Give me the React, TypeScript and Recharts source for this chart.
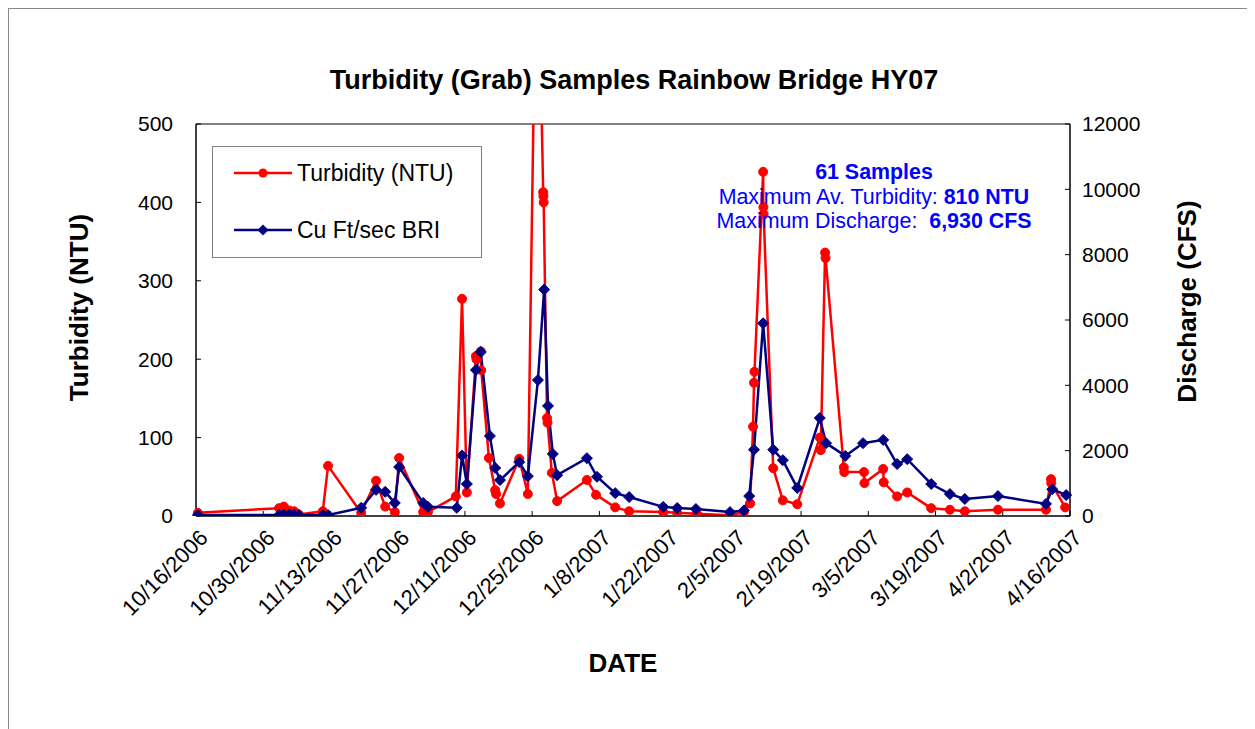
import React from 'react';
import { LineChart, Line, XAxis, YAxis, ReferenceLine } from 'recharts';

// x values are days since 10/16/2006
const turbDays = [
  0.4, 17.3, 18.3, 19.4, 20.4, 21.4, 26.4, 27.5, 34.4, 37.5, 39.4, 41.4, 42.3, 47.3, 48.3,
  54.1, 55.4, 56.4, 58.3, 58.4, 59.3, 59.4, 61.0, 62.3, 62.5, 63.3, 67.3, 69.1, 71.0, 72.3,
  72.35, 72.4, 73.1, 73.2, 74.1, 75.2, 81.4, 83.3, 87.3, 90.2, 97.3, 100.2, 104.3, 111.2,
  114.1, 115.4, 116.0, 116.2, 116.3, 118.1, 118.15, 118.2, 120.2, 122.2, 125.2, 129.9, 130.1,
  131.0, 131.1, 134.9, 135.0, 139.1, 139.2, 143.1, 143.2, 146.0, 148.1, 153.1, 157.0, 160.1,
  167.0, 177.0, 178.05, 178.1, 181.0,
];
const turbNtu = [
  4, 10, 12, 7, 6, 2, 6, 64, 4, 45, 12, 5, 74, 5, 5,
  25, 277, 30, 204, 200, 210, 186, 74, 33, 28, 16, 73, 28, 810, 413,
  408, 400, 125, 119, 55, 19, 46, 27, 11, 6, 5, 4, 3, 1,
  5, 16, 114, 170, 184, 439, 394, 385, 61, 20, 15, 100, 84,
  336, 329, 62, 56, 56, 42, 60, 43, 25, 30, 10, 8, 6,
  8, 8, 47, 42, 11,
];

const flowDays = [
  0.4, 17.3, 18.3, 19.4, 20.4, 21.4, 26.4, 27.5, 34.4, 37.5, 39.4, 41.4, 42.3, 47.3, 48.3,
  54.3, 55.4, 56.4, 58.3, 59.3, 61.2, 62.3, 63.3, 67.3, 69.1, 71.2, 72.5, 73.3, 74.3, 75.2,
  81.4, 83.5, 87.3, 90.2, 97.3, 100.2, 104.1, 111.2, 114.1, 115.2, 116.2, 118.1, 120.2, 122.2,
  125.2, 129.9, 131.2, 135.2, 138.9, 143.1, 146.0, 148.1, 153.1, 157.0, 160.1, 167.0, 177.0,
  178.3, 181.2,
];
const flowCfs = [
  30, 30, 40, 50, 40, 30, 30, 30, 250, 800, 740, 400, 1500, 400, 280,
  250, 1850, 980, 4470, 5020, 2450, 1470, 1100, 1650, 1220, 4160, 6930, 3370, 1900, 1250,
  1770, 1200, 700, 580, 280, 245, 215, 120, 170, 610, 2030, 5900, 2030, 1710,
  860, 3000, 2230, 1840, 2230, 2330, 1590, 1740, 980, 670, 520, 610, 370,
  820, 640,
];

const dayTicks = [0, 14, 28, 42, 56, 70, 84, 98, 112, 126, 140, 154, 168, 182];
const ntuTicks = [0, 100, 200, 300, 400, 500];
const cfsTicks = [0, 2000, 4000, 6000, 8000, 10000, 12000];

const turbData = turbDays.map((d, i) => ({ day: d, ntu: turbNtu[i] }));
const flowData = flowDays.map((d, i) => ({ day: d, cfs: flowCfs[i] }));

const FONT = 'Arial, "Liberation Sans", sans-serif';
const RED = '#FF0000';
const NAVY = '#000080';

function dayLabel(d: number) {
  const t = new Date(Date.UTC(2006, 9, 16) + d * 86400000);
  return `${t.getUTCMonth() + 1}/${t.getUTCDate()}/${t.getUTCFullYear()}`;
}

function DateTick(props: any) {
  const { x, y, payload } = props;
  return (
    <text
      x={x + 2}
      y={y}
      dy="0.71em"
      textAnchor="end"
      transform={`rotate(-45, ${x + 2}, ${y})`}
      fontSize={22}
      fontFamily={FONT}
      fill="#000"
    >
      {dayLabel(payload.value)}
    </text>
  );
}

function Diamond(props: any) {
  const { cx, cy, index } = props;
  if (cx == null || cy == null) return <g key={`d${index}`} />;
  const s = 5.5;
  return (
    <path
      key={`d${index}`}
      d={`M${cx},${cy - s}L${cx + s},${cy}L${cx},${cy + s}L${cx - s},${cy}Z`}
      fill={NAVY}
      stroke={NAVY}
    />
  );
}

export default function App() {
  return (
    <div
      style={{
        position: 'relative',
        width: 1252,
        height: 724,
        borderLeft: '1px solid #888',
        borderTop: '1px solid #888',
        fontFamily: FONT,
        background: '#fff',
      }}
    >
      <style>{'body{overflow:hidden}'}</style>
      <LineChart
        width={1245}
        height={718}
        margin={{ top: 115, right: 0, bottom: 0, left: 0 }}
      >
        <XAxis
          type="number"
          dataKey="day"
          domain={[0, 182]}
          ticks={dayTicks}
          interval={0}
          height={211}
          tick={<DateTick />}
          tickSize={-5}
          tickMargin={17}
          axisLine={{ stroke: '#000', strokeWidth: 1.5 }}
          tickLine={{ stroke: '#000' }}
          allowDuplicatedCategory
        />
        <YAxis
          yAxisId="ntu"
          orientation="left"
          width={187}
          domain={[0, 500]}
          ticks={ntuTicks}
          allowDataOverflow
          tickSize={-5}
          tickMargin={28}
          tick={{ fontSize: 21, fill: '#000', fontFamily: FONT }}
          axisLine={{ stroke: '#000', strokeWidth: 1.5 }}
          tickLine={{ stroke: '#000' }}
        />
        <YAxis
          yAxisId="cfs"
          orientation="right"
          width={184}
          domain={[0, 12000]}
          ticks={cfsTicks}
          allowDataOverflow
          tickSize={-5}
          tickMargin={17}
          tick={{ fontSize: 21, fill: '#000', fontFamily: FONT, textAnchor: 'start' }}
          axisLine={{ stroke: '#000', strokeWidth: 1.5 }}
          tickLine={{ stroke: '#000' }}
        />
        <ReferenceLine yAxisId="ntu" y={500} stroke="#808080" strokeWidth={2} />
        <Line
          yAxisId="ntu"
          data={turbData}
          dataKey="ntu"
          name="Turbidity (NTU)"
          stroke={RED}
          strokeWidth={2.5}
          dot={{ r: 4.5, fill: RED, stroke: RED, strokeWidth: 1 }}
          isAnimationActive={false}
        />
        <Line
          yAxisId="cfs"
          data={flowData}
          dataKey="cfs"
          name="Cu Ft/sec BRI"
          stroke={NAVY}
          strokeWidth={2.5}
          dot={<Diamond />}
          isAnimationActive={false}
        />
      </LineChart>

      {/* title */}
      <div
        style={{
          position: 'absolute',
          left: 0,
          width: 1250,
          top: 56,
          textAlign: 'center',
          fontSize: 27,
          fontWeight: 'bold',
        }}
      >
        Turbidity (Grab) Samples Rainbow Bridge HY07
      </div>

      {/* axis titles */}
      <div
        style={{
          position: 'absolute',
          left: 70 - 150,
          top: 299 - 16,
          width: 300,
          textAlign: 'center',
          fontSize: 26,
          fontWeight: 'bold',
          transform: 'rotate(-90deg)',
        }}
      >
        Turbidity (NTU)
      </div>
      <div
        style={{
          position: 'absolute',
          left: 1178 - 150,
          top: 293 - 16,
          width: 300,
          textAlign: 'center',
          fontSize: 26,
          fontWeight: 'bold',
          transform: 'rotate(-90deg)',
        }}
      >
        Discharge (CFS)
      </div>
      <div
        style={{
          position: 'absolute',
          left: 614 - 100,
          top: 639,
          width: 200,
          textAlign: 'center',
          fontSize: 26,
          fontWeight: 'bold',
        }}
      >
        DATE
      </div>

      {/* legend */}
      <div
        style={{
          position: 'absolute',
          left: 203,
          top: 137,
          width: 268,
          height: 110,
          border: '1px solid #808080',
          background: '#fff',
          fontSize: 23,
        }}
      >
        {[
          { label: 'Turbidity (NTU)', color: RED, shape: 'circle', top: 12 },
          { label: 'Cu Ft/sec BRI', color: NAVY, shape: 'diamond', top: 69 },
        ].map((it) => (
          <div
            key={it.label}
            style={{ position: 'absolute', left: 21, top: it.top, display: 'flex', alignItems: 'center', height: 28 }}
          >
            <svg width={58} height={14} style={{ marginRight: 5 }}>
              <line x1={0} y1={7} x2={58} y2={7} stroke={it.color} strokeWidth={2.5} />
              {it.shape === 'circle' ? (
                <circle cx={29} cy={7} r={4.5} fill={it.color} />
              ) : (
                <path d="M29,1.5L34.5,7L29,12.5L23.5,7Z" fill={it.color} />
              )}
            </svg>
            <span>{it.label}</span>
          </div>
        ))}
      </div>

      {/* annotation */}
      <div
        style={{
          position: 'absolute',
          left: 865 - 200,
          top: 151,
          width: 400,
          textAlign: 'center',
          fontSize: 21.4,
          lineHeight: '24.5px',
          color: '#0000FF',
        }}
      >
        <div style={{ fontWeight: 'bold' }}>61 Samples</div>
        <div>
          Maximum Av. Turbidity: <b>810 NTU</b>
        </div>
        <div>
          Maximum Discharge:&nbsp; <b>6,930 CFS</b>
        </div>
      </div>
    </div>
  );
}
